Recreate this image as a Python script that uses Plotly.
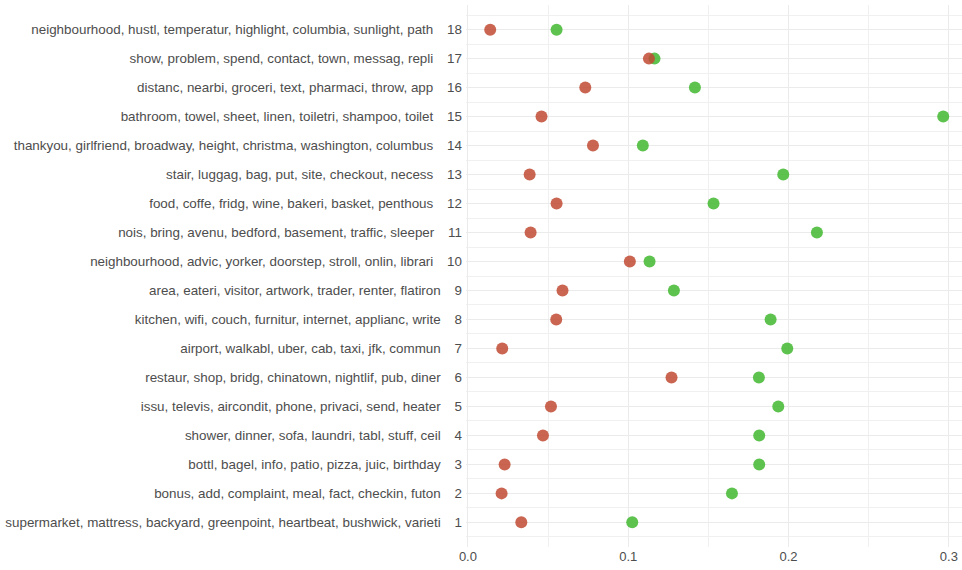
import plotly.graph_objects as go

topics = [
    "supermarket, mattress, backyard, greenpoint, heartbeat, bushwick, varieti",
    "bonus, add, complaint, meal, fact, checkin, futon",
    "bottl, bagel, info, patio, pizza, juic, birthday",
    "shower, dinner, sofa, laundri, tabl, stuff, ceil",
    "issu, televis, aircondit, phone, privaci, send, heater",
    "restaur, shop, bridg, chinatown, nightlif, pub, diner",
    "airport, walkabl, uber, cab, taxi, jfk, commun",
    "kitchen, wifi, couch, furnitur, internet, applianc, write",
    "area, eateri, visitor, artwork, trader, renter, flatiron",
    "neighbourhood, advic, yorker, doorstep, stroll, onlin, librari",
    "nois, bring, avenu, bedford, basement, traffic, sleeper",
    "food, coffe, fridg, wine, bakeri, basket, penthous",
    "stair, luggag, bag, put, site, checkout, necess",
    "thankyou, girlfriend, broadway, height, christma, washington, columbus",
    "bathroom, towel, sheet, linen, toiletri, shampoo, toilet",
    "distanc, nearbi, groceri, text, pharmaci, throw, app",
    "show, problem, spend, contact, town, messag, repli",
    "neighbourhood, hustl, temperatur, highlight, columbia, sunlight, path",
]
topic_ids = list(range(1, 19))

red_values = [0.0333, 0.0210, 0.0229, 0.0468, 0.0518, 0.1270, 0.0214, 0.0551, 0.0590,
              0.1010, 0.0391, 0.0553, 0.0385, 0.0780, 0.0459, 0.0732, 0.1129, 0.0139]
green_values = [0.1025, 0.1647, 0.1817, 0.1817, 0.1936, 0.1815, 0.1992, 0.1888, 0.1285,
                0.1133, 0.2177, 0.1532, 0.1967, 0.1091, 0.2965, 0.1416, 0.1164, 0.0553]

x_ticks = [0.0, 0.1, 0.2, 0.3]
x_tick_labels = ["0.0", "0.1", "0.2", "0.3"]

tick_text = [f"{t}\u00a0\u00a0\u00a0\u2009{i}" for t, i in zip(topics, topic_ids)]

fig = go.Figure()
fig.add_trace(go.Scatter(
    x=green_values, y=topic_ids, mode="markers",
    marker=dict(size=12, color="#4cbb3b", opacity=0.9, line=dict(width=0)),
    showlegend=False, hoverinfo="x+y",
))
fig.add_trace(go.Scatter(
    x=red_values, y=topic_ids, mode="markers",
    marker=dict(size=12, color="#c04a33", opacity=0.85, line=dict(width=0)),
    showlegend=False, hoverinfo="x+y",
))

fig.update_layout(
    width=962, height=570,
    margin=dict(l=466, r=0, t=5, b=23),
    paper_bgcolor="white", plot_bgcolor="white",
    font=dict(family="Liberation Sans, Arial, sans-serif", size=13.4, color="#4d4d4d"),
    xaxis=dict(
        range=[-0.0012, 0.3082],
        tickvals=x_ticks, ticktext=x_tick_labels,
        showgrid=True, gridcolor="#ebebeb", gridwidth=1.2,
        minor=dict(dtick=0.05, tick0=0, showgrid=True, gridcolor="#f0f0f0", gridwidth=0.8, ticks=""),
        zeroline=False, showline=False, ticks="",
        tickfont=dict(size=13, color="#4d4d4d"),
    ),
    yaxis=dict(
        range=[0.15, 18.85],
        tickvals=topic_ids, ticktext=tick_text,
        showgrid=True, gridcolor="#ebebeb", gridwidth=1.2,
        minor=dict(dtick=0.5, tick0=0.5, showgrid=True, gridcolor="#f0f0f0", gridwidth=0.8, ticks=""),
        zeroline=False, showline=False, ticks="",
        ticklabelstandoff=3,
        tickfont=dict(size=13.4, color="#4d4d4d"),
    ),
)

fig.write_html("out.html", config={"displayModeBar": False},
               post_script="document.body.style.margin='0px';")
